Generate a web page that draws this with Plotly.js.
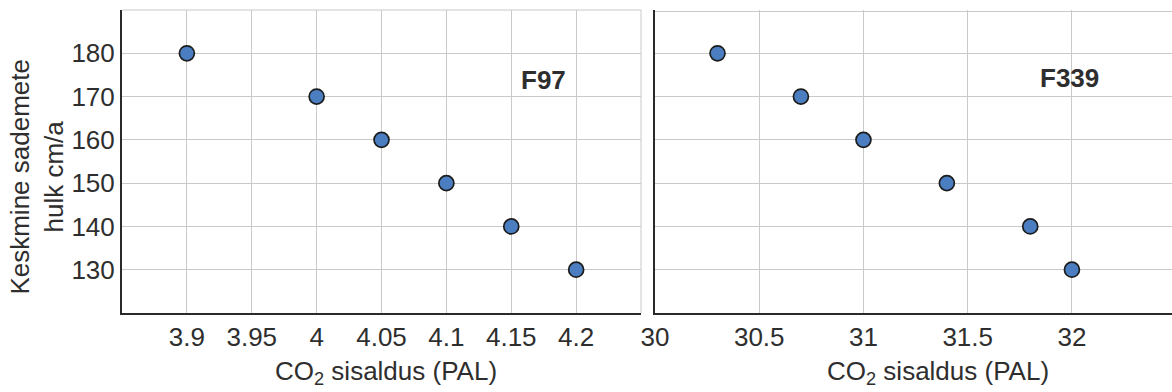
<!DOCTYPE html>
<html>
<head>
<meta charset="utf-8">
<script src="https://cdn.plot.ly/plotly-3.0.1.min.js"></script>
<style>html,body{margin:0;padding:0;background:#fff;}#chart{width:1172px;height:392px;}</style>
</head>
<body>
<div id="chart"></div>
<script>
// Data
const rainfall = [180, 170, 160, 150, 140, 130];
const co2_F97 = [3.9, 4.0, 4.05, 4.1, 4.15, 4.2];
const co2_F339 = [30.3, 30.7, 31.0, 31.4, 31.8, 32.0];
const labelF97 = 'F97';
const labelF339 = 'F339';

const x1TickVals = [3.9, 3.95, 4.0, 4.05, 4.1, 4.15, 4.2];
const x1TickText = ['3.9', '3.95', '4', '4.05', '4.1', '4.15', '4.2'];
const x2TickVals = [30, 30.5, 31, 31.5, 32];
const x2TickText = ['30', '30.5', '31', '31.5', '32'];
const yTickVals = [130, 140, 150, 160, 170, 180];
const yTickText = ['130', '140', '150', '160', '170', '180'];

const xTitle = 'CO<sub>2</sub> sisaldus (PAL)';
const yTitle = 'Keskmine sademete<br>hulk cm/a';

const FONT = 'Liberation Sans, Arial, sans-serif';
const TXT = '#2e2e2e';
const GRID = '#c9c9c9';

const marker = {size: 15, color: '#4a7ec0', line: {color: '#1c1c1c', width: 1.7}};

const traces = [
  {x: co2_F97, y: rainfall, type: 'scatter', mode: 'markers', marker: marker, xaxis: 'x', yaxis: 'y', hoverinfo: 'x+y'},
  {x: co2_F339, y: rainfall, type: 'scatter', mode: 'markers', marker: marker, xaxis: 'x2', yaxis: 'y2', hoverinfo: 'x+y'}
];

const axisCommon = {
  showgrid: true, gridcolor: GRID, gridwidth: 1,
  showline: true, linecolor: '#2a2a2a', linewidth: 2,
  zeroline: false, ticks: '', tickmode: 'array',
  tickfont: {family: FONT, size: 26, color: TXT}
};

// light frame lines (top of both panels, right of first panel)
const frame = (xr, yr, x0, y0, x1, y1) => ({type: 'line', xref: xr, yref: yr, x0: x0, y0: y0, x1: x1, y1: y1,
  line: {color: GRID, width: 1}, layer: 'below'});

const layout = {
  width: 1172, height: 392,
  margin: {l: 122, r: 0, t: 10, b: 79},
  paper_bgcolor: '#fff', plot_bgcolor: '#fff',
  showlegend: false,
  font: {family: FONT, color: TXT},
  xaxis: Object.assign({}, axisCommon, {
    domain: [0, 0.4943], range: [3.85, 4.25],
    tickvals: x1TickVals, ticktext: x1TickText
  }),
  yaxis: Object.assign({}, axisCommon, {
    range: [120, 190], tickvals: yTickVals, ticktext: yTickText
  }),
  xaxis2: Object.assign({}, axisCommon, {
    domain: [0.5076, 1], range: [30, 32.48], anchor: 'y2',
    tickvals: x2TickVals, ticktext: x2TickText
  }),
  yaxis2: Object.assign({}, axisCommon, {
    range: [120, 190], anchor: 'x2', tickvals: yTickVals, ticktext: yTickText,
    showticklabels: false
  }),
  shapes: [
    frame('x domain', 'y domain', 0, 1, 1, 1),
    frame('x domain', 'y domain', 1, 0, 1, 1),
    frame('x2 domain', 'y2 domain', 0, 0.995, 1, 0.995)
  ],
  annotations: [
    {text: '<b>' + labelF97 + '</b>', xref: 'x', yref: 'y', x: 4.175, y: 173.8, showarrow: false,
     font: {family: FONT, size: 26, color: TXT}},
    {text: '<b>' + labelF339 + '</b>', xref: 'x2', yref: 'y2', x: 31.99, y: 174.2, showarrow: false,
     font: {family: FONT, size: 26, color: TXT}},
    {text: xTitle, xref: 'paper', yref: 'paper', x: 0.2514, y: -0.195, xanchor: 'center', yanchor: 'middle',
     showarrow: false, font: {family: FONT, size: 26, color: TXT}},
    {text: xTitle, xref: 'paper', yref: 'paper', x: 0.7771, y: -0.195, xanchor: 'center', yanchor: 'middle',
     showarrow: false, font: {family: FONT, size: 26, color: TXT}},
    {text: yTitle, xref: 'paper', yref: 'paper', x: -0.081, y: 0.45, xanchor: 'center', yanchor: 'middle',
     textangle: -90, showarrow: false, font: {family: FONT, size: 26, color: TXT}}
  ]
};

Plotly.newPlot('chart', traces, layout, {displayModeBar: false, staticPlot: true});
</script>
</body>
</html>
